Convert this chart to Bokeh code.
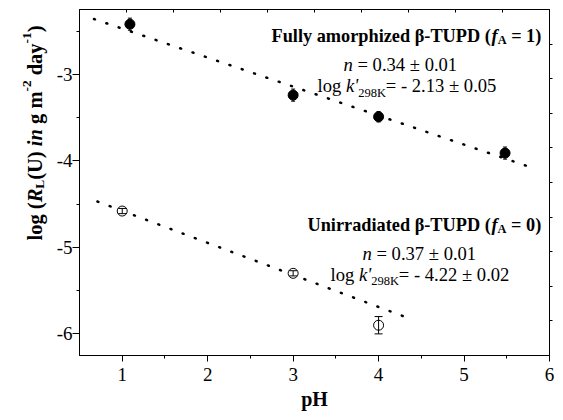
import numpy as np
from bokeh.plotting import figure
from bokeh.layouts import row
from bokeh.models import (Range1d, LinearAxis, FixedTicker, Label, ColumnDataSource,
                          Whisker, TeeHead)
from bokeh.embed import file_html
from bokeh.resources import INLINE

# ---------------- data ----------------
ph_amorph = [1.09, 3.0, 4.0, 5.48]
logR_amorph = [-2.42, -3.24, -3.49, -3.91]
err_amorph = [0.07, 0.07, 0.06, 0.07]

ph_unirr = [1.0, 3.0, 4.0]
logR_unirr = [-4.58, -5.30, -5.90]
err_unirr = [0.03, 0.03, 0.10]

fit_amorph_x = [0.67, 5.83]
fit_amorph_y = [-2.36, -4.09]
fit_unirr_x = [0.71, 4.30]
fit_unirr_y = [-4.47, -5.80]

x_ticks = [1, 2, 3, 4, 5, 6]
x_minor = [1.5, 2.5, 3.5, 4.5, 5.5]
y_ticks = [-6, -5, -4, -3]
y_minor = [-6.0, -5.5, -4.5, -3.5, -2.5]

X0, X1 = 0.5, 6.0
Y0, Y1 = -6.25, -2.25

# ---------------- layout geometry (page pixels) ----------------
H = 412
LW = 52                      # width of the strip that carries the y-axis title
W = 555 - LW                 # main figure width
FL, FT, FR, FB = 79, 9, 549, 358   # frame edges in page pixels

p = figure(width=W, height=H, x_range=Range1d(X0, X1), y_range=Range1d(Y0, Y1),
           output_backend="svg", toolbar_location=None,
           min_border_left=FL - LW, min_border_right=LW + W - FR, min_border_top=FT,
           min_border_bottom=H - FB)
p.xgrid.visible = False
p.ygrid.visible = False
p.outline_line_color = "black"
p.outline_line_width = 1
p.background_fill_color = "white"
p.border_fill_color = "white"

FONT = "Liberation Serif"

def style_axis(ax, size="19px"):
    ax.axis_line_color = "black"
    ax.major_tick_line_color = "black"
    ax.minor_tick_line_color = "black"
    ax.major_label_text_font = FONT
    ax.major_label_text_font_size = size
    ax.major_label_text_color = "black"

style_axis(p.xaxis[0])
p.xaxis.ticker = FixedTicker(ticks=x_ticks, minor_ticks=x_minor)
p.xaxis.major_tick_in = 0
p.xaxis.major_tick_out = 6
p.xaxis.minor_tick_in = 0
p.xaxis.minor_tick_out = 3
p.xaxis.major_label_standoff = 6
p.xaxis.axis_label = "pH"
p.xaxis.axis_label_text_font = FONT
p.xaxis.axis_label_text_font_style = "bold"
p.xaxis.axis_label_text_font_size = "20px"
p.xaxis.axis_label_text_color = "black"
p.xaxis.axis_label_standoff = 4

style_axis(p.yaxis[0])
p.yaxis.ticker = FixedTicker(ticks=y_ticks, minor_ticks=y_minor)
p.yaxis.major_tick_in = 0
p.yaxis.major_tick_out = 7
p.yaxis.minor_tick_in = 0
p.yaxis.minor_tick_out = 3
p.yaxis.major_label_standoff = 0
p.yaxis.major_label_overrides = {t: str(t) for t in y_ticks}

# mirror axes (top / right) with their own 10-division ticks, no labels
p.extra_x_ranges = {"top": Range1d(0, 10)}
p.extra_y_ranges = {"right": Range1d(0, 10)}
common = dict(minor_tick_in=0, minor_tick_out=0, major_label_text_font_size="1px",
              major_label_text_color=None, major_label_standoff=0,
              axis_line_color="black", major_tick_line_color="black")
top_ax = LinearAxis(x_range_name="top", ticker=FixedTicker(ticks=list(range(1, 10)), minor_ticks=[]),
                    major_tick_in=3, major_tick_out=0, **common)
right_ax = LinearAxis(y_range_name="right", ticker=FixedTicker(ticks=list(range(1, 10)), minor_ticks=[]),
                      major_tick_in=0, major_tick_out=3, **common)
p.add_layout(top_ax, "above")
p.add_layout(right_ax, "right")

# ---------------- fit lines ----------------
for fx, fy in [(fit_amorph_x, fit_amorph_y), (fit_unirr_x, fit_unirr_y)]:
    p.line(fx, fy, line_color="black", line_width=2.5, line_dash="1 12", line_cap="round")

# ---------------- points ----------------
src_a = ColumnDataSource(dict(x=ph_amorph, y=logR_amorph,
                              up=[v + e for v, e in zip(logR_amorph, err_amorph)],
                              lo=[v - e for v, e in zip(logR_amorph, err_amorph)]))
src_u = ColumnDataSource(dict(x=ph_unirr, y=logR_unirr,
                              up=[v + e for v, e in zip(logR_unirr, err_unirr)],
                              lo=[v - e for v, e in zip(logR_unirr, err_unirr)]))

p.scatter("x", "y", source=src_a, marker="circle", size=10, fill_color="black", line_color="black")
p.scatter("x", "y", source=src_u, marker="circle", size=10, fill_color="white", line_color="black",
          line_width=1)

for src, cap in [(src_a, 4), (src_u, 8)]:
    w = Whisker(source=src, base="x", upper="up", lower="lo", line_color="black", line_width=1,
                upper_head=TeeHead(size=cap, line_color="black", line_width=1),
                lower_head=TeeHead(size=cap, line_color="black", line_width=1), level="overlay")
    p.add_layout(w)

# ---------------- strip figure for the rotated y-axis title ----------------
q = figure(width=LW, height=H, x_range=Range1d(0, LW), y_range=Range1d(0, H),
           output_backend="svg", toolbar_location=None, x_axis_type=None, y_axis_type=None,
           min_border=0, min_border_left=0, min_border_right=0, min_border_top=0,
           min_border_bottom=0)
q.xgrid.visible = False
q.ygrid.visible = False
q.outline_line_color = None
q.background_fill_color = "white"
q.border_fill_color = "white"

# ---------------- rich text helper ----------------
TR = {' ': 250, '.': 250, '=': 564, '±': 564, '-': 333, 'l': 278, 'o': 500, 'g': 500, 'K': 722}
TI = {' ': 250, 'n': 500, 'k': 444, "'": 214}
TB = {' ': 250, 'F': 611, 'u': 556, 'l': 278, 'y': 500, 'a': 500, 'm': 833, 'o': 500, 'r': 444,
      'p': 556, 'h': 556, 'i': 278, 'z': 444, 'e': 444, 'd': 556, 'β': 556, '-': 333, 'T': 667,
      'U': 722, 'P': 611, 'D': 722, '(': 333, ')': 333, '=': 570, 'A': 722, 'n': 556, 't': 333,
      'g': 500, 'L': 667}
TBI = {' ': 250, 'f': 333, 'R': 667, 'i': 278, 'n': 556}
TABLES = {"r": TR, "i": TI, "b": TB, "bi": TBI}
STYLES = {"r": "normal", "i": "italic", "b": "bold", "bi": "bold italic"}

def main_to_data(px, py):
    return (X0 + (px - FL) * (X1 - X0) / (FR - FL),
            Y0 + (FB - py) * (Y1 - Y0) / (FB - FT))

def strip_to_screen(px, py):
    # screen units of the strip: from its frame's left / bottom edge
    return px, H - py

def rich(fig, conv, pieces, px, py, size, angle=0.0, units="data"):
    pos = 0.0
    for text, st, scale, shift in pieces:
        fs = size * scale
        tbl = TABLES[st]
        sp = tbl[' '] * fs / 1000.0
        lead = len(text) - len(text.lstrip(" "))
        trail = len(text) - len(text.rstrip(" "))
        body = text.strip(" ")
        pos += lead * sp
        w_body = sum(tbl.get(c, 500) for c in body) * fs / 1000.0
        if angle == 0:
            qx, qy = px + pos, py + shift
        else:
            qx, qy = px + shift, py - pos
        dx, dy = conv(qx, qy)
        fig.add_layout(Label(x=dx, y=dy, x_units=units, y_units=units, text=body,
                             text_font=FONT, text_font_style=STYLES[st],
                             text_font_size=f"{fs:.1f}px", text_color="black", angle=angle,
                             text_align="left", text_baseline="alphabetic"))
        pos += w_body + trail * sp

# annotations
rich(p, main_to_data, [("Fully amorphized β-TUPD (", "b", 1, 0), ("f", "bi", 1, 0),
                       ("A", "b", 0.67, 4), (" = 1)", "b", 1, 0)], 271, 36, 18.3)
rich(p, main_to_data, [("n", "i", 1, 0), (" = 0.34 ± 0.01", "r", 1, 0)], 343, 64, 18.6)
rich(p, main_to_data, [("log ", "r", 1, 0), ("k'", "i", 1, 0), ("298K", "r", 0.67, 7),
                       ("= - 2.13 ± 0.05", "r", 1, 0)], 317, 86, 18.6)

rich(p, main_to_data, [("Unirradiated β-TUPD (", "b", 1, 0), ("f", "bi", 1, 0),
                       ("A", "b", 0.67, 4), (" = 0)", "b", 1, 0)], 307, 226, 18.3)
rich(p, main_to_data, [("n", "i", 1, 0), (" = 0.37 ± 0.01", "r", 1, 0)], 362, 255, 18.6)
rich(p, main_to_data, [("log ", "r", 1, 0), ("k'", "i", 1, 0), ("298K", "r", 0.67, 7),
                       ("= - 4.22 ± 0.02", "r", 1, 0)], 330, 276, 18.6)

# y-axis title (rotated), drawn in the left strip with screen units
rich(q, strip_to_screen, [("log (", "b", 1, 0), ("R", "bi", 1, 0), ("L", "b", 0.65, 5),
                          ("(U) ", "b", 1, 0), ("in", "bi", 1, 0), (" g m", "b", 1, 0),
                          ("-2", "b", 0.65, -8), (" day", "b", 1, 0), ("-1", "b", 0.65, -8),
                          (")", "b", 1, 0)], 34, 297, 20.5, angle=np.pi / 2, units="screen")

layout = row(q, p, spacing=0)
open("out.html", "w").write(file_html(layout, INLINE))
